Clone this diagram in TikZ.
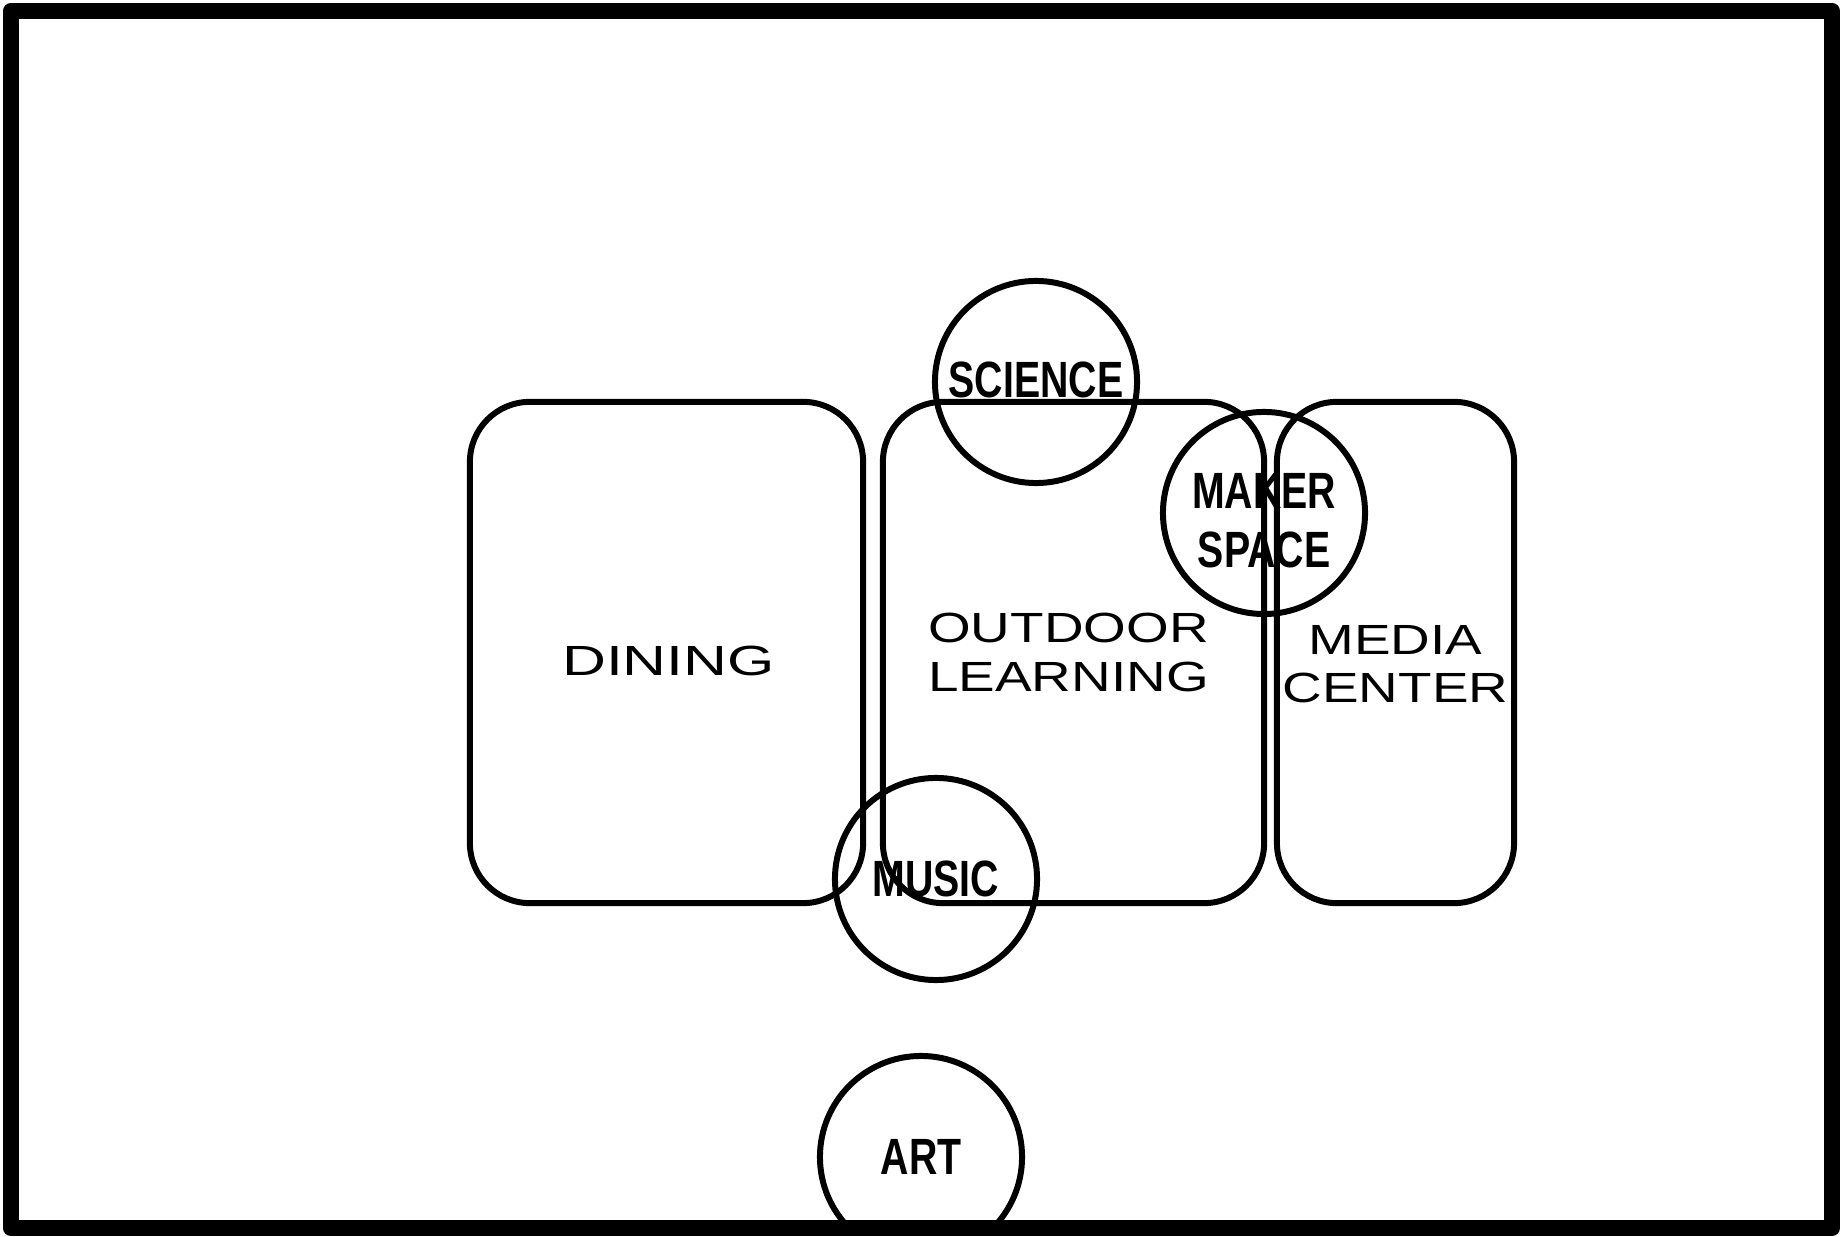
\documentclass[tikz,border=0pt]{standalone}
\usepackage{fontspec}
\setmainfont{Liberation Sans}
\newfontfamily\roomfont[FakeStretch=1.3]{Liberation Sans}
\newfontfamily\roomwidefont[FakeStretch=1.44]{Liberation Sans}
\newfontfamily\zonefont[FakeStretch=0.77]{Liberation Sans Bold}

\tikzset{
  room/.style={draw, line width=1.7pt, rounded corners=0.6cm, inner sep=0pt,
    minimum height=5.01cm},
  zone/.style={draw, circle, line width=1.7pt, minimum size=2.02cm, inner sep=0pt},
  roomtext/.style={align=center, inner sep=0pt, font=\roomfont\fontsize{12}{13.7}\selectfont},
  zonetext/.style={align=center, inner sep=0pt, font=\zonefont\fontsize{14.5}{16.8}\selectfont}
}

\begin{document}
\begin{tikzpicture}[x=0.01cm,y=-0.01cm,line cap=round,line join=round]
\useasboundingbox (0,0) rectangle (1842,1237);
\clip (0,0) rectangle (1842,1237);

% rooms
\node[room, minimum width=3.93cm] (dining) at (666.5,652.5) {};
\node[room, minimum width=3.81cm] (outdoor) at (1073.5,652.5) {};
\node[room, minimum width=2.37cm] (media) at (1395.5,652.5) {};

\node[roomtext, font=\roomwidefont\fontsize{12}{13.7}\selectfont] (dininglabel) at ([xshift=0.02cm,yshift=-0.085cm]dining.center) {DINING};
\node[roomtext] (outdoorlabel) at ([xshift=-0.05cm]outdoor.center) {OUTDOOR\\LEARNING};
\node[roomtext] (medialabel) at ([yshift=-0.12cm]media.center) {MEDIA\\CENTER};

% zones
\begin{scope}
\clip (11,11) rectangle (1832,1228);
\node[zone] (science) at (1036,382) {};
\node[zone] (maker) at (1264,513) {};
\node[zone] (music) at (936,879) {};
\node[zone] (art) at (921,1157) {};
\end{scope}

\node[zonetext] (sciencelabel) at ([yshift=0.02cm]science.center) {SCIENCE};
\node[zonetext] (makerlabel) at ([yshift=-0.08cm]maker.center) {MAKER\\SPACE};
\node[zonetext] (musiclabel) at (music.center) {MUSIC};
\node[zonetext] (artlabel) at (art.center) {ART};

% frame
\draw[line width=4.6pt] (11,11) rectangle (1832,1228);

\end{tikzpicture}
\end{document}
